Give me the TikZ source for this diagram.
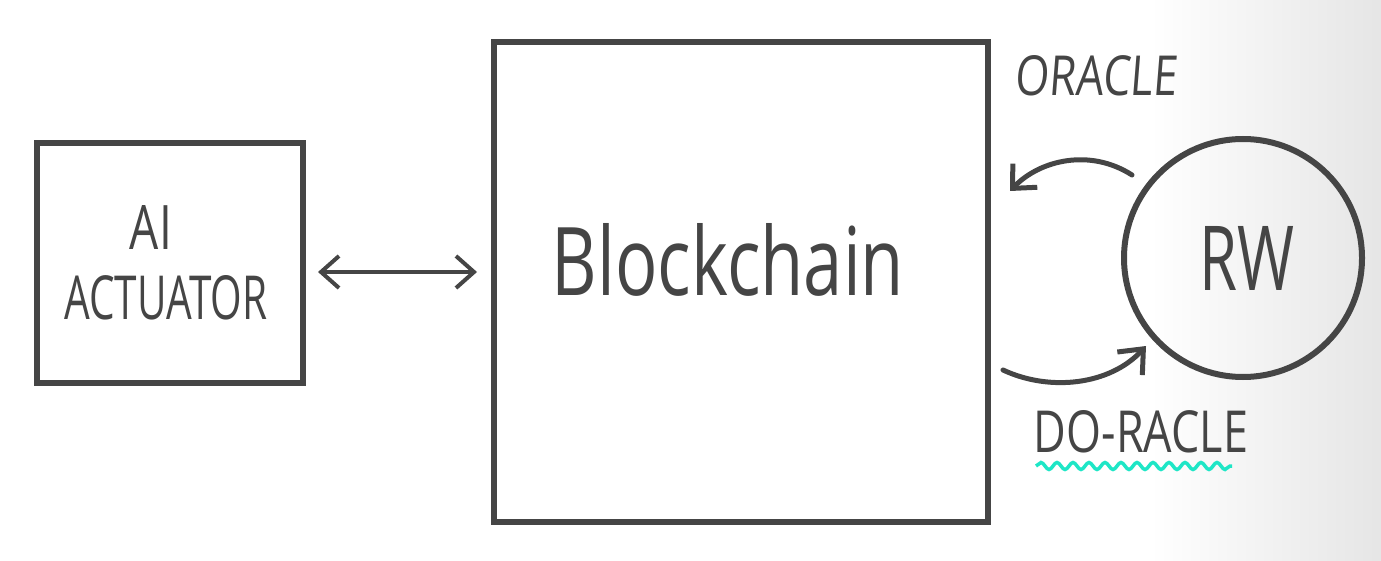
\documentclass[tikz,border=0pt]{standalone}
\usepackage{fontspec}
\setmainfont{Open Sans}
\usepackage{graphicx}
\usetikzlibrary{arrows.meta,decorations.pathmorphing,shapes.geometric}
\definecolor{pencil}{HTML}{454545}
\definecolor{hilite}{HTML}{1EE6C6}
\tikzset{
  box/.style={draw=pencil, line width=6pt, inner sep=0pt},
  conn/.style={draw=pencil, line width=4pt, line cap=round},
  lbl/.style={text=pencil, inner sep=0pt}
}
\begin{document}
\begin{tikzpicture}[x=1pt,y=-1pt]
\useasboundingbox (0,0) rectangle (1381,561);
\shade[left color=white, right color=black!10] (1150,0) rectangle (1381,561);
% boxes
\node[box, minimum width=266pt, minimum height=240pt] (ai) at (170,263) {};
\node[box, minimum width=494pt, minimum height=480pt] (bc) at (741,282) {};
\node[box, circle, minimum size=238pt] (rw) at (1243,258) {};
% labels
\node[lbl] (ailbl) at (151,228) {\resizebox{42pt}{44pt}{AI}};
\node[lbl] (actlbl) at (166,298) {\resizebox{203pt}{44pt}{ACTUATOR}};
\node[lbl] (bclbl) at (728,260) {\resizebox{352pt}{72pt}{Blockchain}};
\node[lbl] (rwlbl) at (1247,258) {\resizebox{95pt}{64pt}{RW}};
\node[lbl, xslant=0.08] (orlbl) at (1097,76) {\resizebox{162pt}{40pt}{ORACLE}};
\node[lbl] (dolbl) at (1141,432) {\resizebox{214pt}{42pt}{DO-RACLE}};
% wavy underline
\coordinate (w1) at (1036,466);
\coordinate (w2) at (1232,466);
\draw[hilite, line width=3.5pt, decorate, decoration={snake, segment length=16pt, amplitude=3.5pt}] (w1) -- (w2);
% double arrow
\coordinate (d1) at ([xshift=12pt,yshift=-9pt]ai.east);
\coordinate (d2) at ([xshift=-14pt,yshift=-28pt]bc.west);
\draw[conn, {Straight Barb[length=18pt, width=32pt]}-{Straight Barb[length=18pt, width=32pt]}] (d1) -- (d1 -| d2);
% oracle arrow
\coordinate (o1) at (1132,175);
\coordinate (o2) at (1010,191);
\draw[conn, line width=5pt, -{Straight Barb[length=18pt, width=34pt]}] (o1) .. controls (1090,148) and (1040,160) .. (o2);
% do-racle arrow
\coordinate (r1) at (1003,370);
\coordinate (r2) at (1146,346);
\draw[conn, line width=5pt, -{Straight Barb[length=20pt, width=34pt]}] (r1) .. controls (1050,392) and (1110,385) .. (r2);
\end{tikzpicture}
\end{document}
